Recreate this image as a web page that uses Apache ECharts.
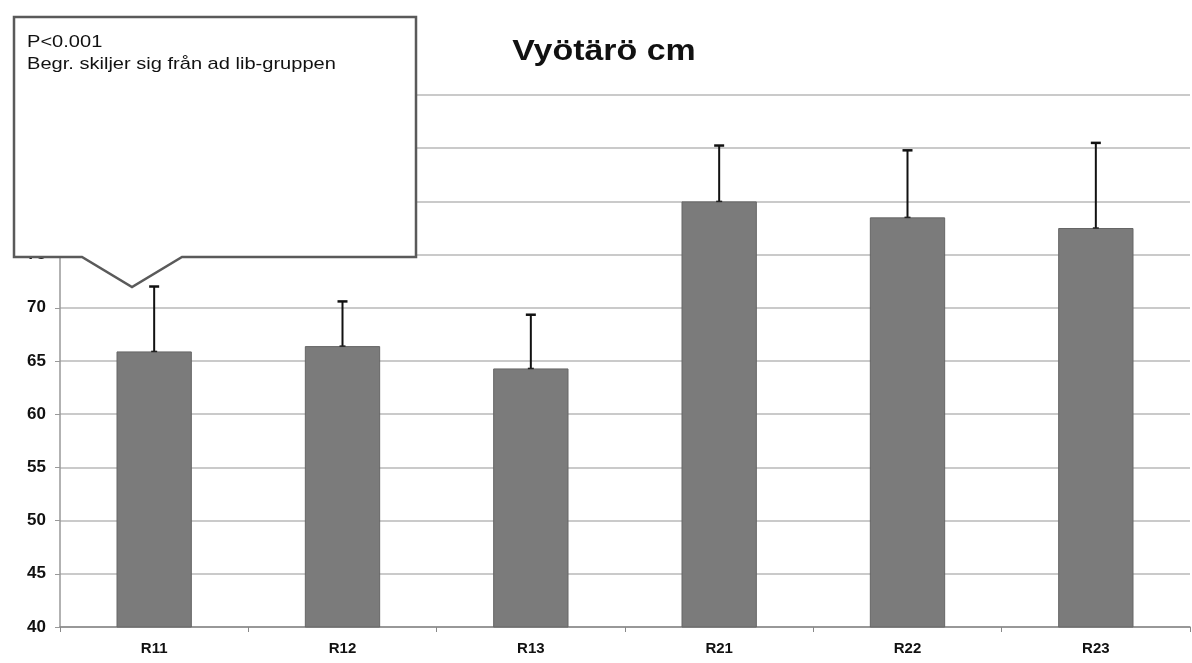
<!DOCTYPE html>
<html>
<head>
<meta charset="utf-8">
<script src="https://cdn.jsdelivr.net/npm/echarts@6/dist/echarts.min.js"></script>
<style>
html,body{margin:0;padding:0;background:#fff;}
#c{width:1192px;height:663px;}
</style>
</head>
<body>
<div id="c"></div>
<script>
var categories = ['R11', 'R12', 'R13', 'R21', 'R22', 'R23'];
var means = [65.9, 66.4, 64.3, 80.0, 78.5, 77.5];
var sds = [6.1, 4.2, 5.05, 5.25, 6.3, 8.0];
var yTicks = [40, 45, 50, 55, 60, 65, 70, 75, 80, 85, 90];
var titleText = 'Vyötärö cm';
var noteLines = ['P<0.001', 'Begr. skiljer sig från ad lib-gruppen'];

var FONT = '"Liberation Sans", Arial, sans-serif';
var chart = echarts.init(document.getElementById('c'), null, {renderer: 'canvas'});

var errData = categories.map(function (c, i) { return [i, means[i], means[i] + sds[i]]; });

chart.setOption({
  animation: false,
  backgroundColor: '#ffffff',
  grid: {left: 60, right: 2, top: 95, bottom: 36},
  xAxis: {
    type: 'category',
    data: categories,
    axisLine: {lineStyle: {color: '#888', width: 1.5}},
    axisTick: {show: true, alignWithLabel: false, length: 5, lineStyle: {color: '#888'}},
    axisLabel: {fontFamily: FONT, fontSize: 15, fontWeight: 'bold', color: '#111', margin: 14}
  },
  yAxis: {
    type: 'value',
    min: yTicks[0], max: yTicks[yTicks.length - 1], interval: 5,
    axisLine: {show: true, lineStyle: {color: '#999', width: 1.5}},
    axisTick: {show: true, length: 5, lineStyle: {color: '#999'}},
    axisLabel: {fontFamily: FONT, fontSize: 17, fontWeight: 'bold', color: '#111', margin: 14},
    splitLine: {lineStyle: {color: '#b8b8b8', width: 1.5}}
  },
  series: [
    {
      type: 'bar',
      data: means,
      barWidth: '40%',
      itemStyle: {color: '#7b7b7b', borderColor: '#666', borderWidth: 1}
    },
    {
      type: 'custom',
      data: errData,
      z: 5,
      renderItem: function (params, api) {
        var x = api.value(0);
        var lo = api.coord([x, api.value(1)]);
        var hi = api.coord([x, api.value(2)]);
        var cap = 5;
        return {
          type: 'group',
          children: [
            {type: 'line', shape: {x1: lo[0], y1: lo[1], x2: hi[0], y2: hi[1]}, style: {stroke: '#111', lineWidth: 2}},
            {type: 'line', shape: {x1: hi[0] - cap, y1: hi[1], x2: hi[0] + cap, y2: hi[1]}, style: {stroke: '#111', lineWidth: 2.5}},
            {type: 'line', shape: {x1: lo[0] - 3, y1: lo[1], x2: lo[0] + 3, y2: lo[1]}, style: {stroke: '#222', lineWidth: 1.5}}
          ]
        };
      }
    }
  ],
  graphic: [
    {
      type: 'text',
      z: 50,
      x: 604, y: 37,
      scaleX: 1.17,
      style: {text: titleText, fontFamily: FONT, fontSize: 29, fontWeight: 'bold', fill: '#111', align: 'center', verticalAlign: 'top'}
    },
    {
      type: 'polygon',
      z: 100,
      shape: {points: [[14, 17], [416, 17], [416, 257], [182, 257], [132, 287], [82, 257], [14, 257]]},
      style: {fill: '#ffffff', stroke: '#5a5a5a', lineWidth: 2.5}
    },
    {
      type: 'text',
      z: 101,
      x: 27, y: 31,
      scaleX: 1.18,
      style: {text: noteLines.join('\n'), fontFamily: FONT, fontSize: 17, lineHeight: 22, fill: '#111'}
    }
  ]
});
</script>
</body>
</html>
